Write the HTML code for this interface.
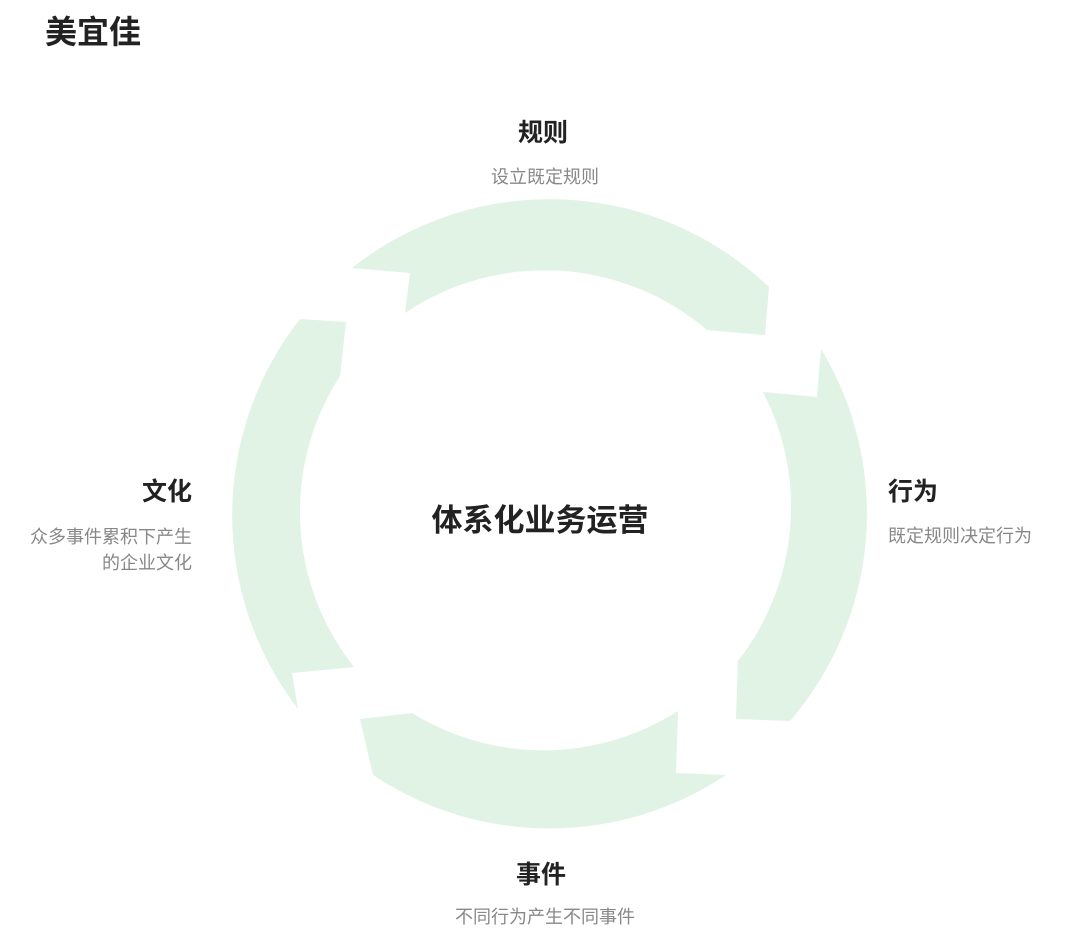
<!DOCTYPE html>
<html><head><meta charset="utf-8"><style>
body{margin:0;width:1080px;height:944px;background:#fff;overflow:hidden;font-family:"Liberation Sans","Noto Sans CJK SC",sans-serif;}
svg{position:absolute;left:0;top:0}
</style></head><body>
<svg width="1080" height="944" viewBox="0 0 1080 944">
<g fill="#e0f3e5">
<path d="M352 268 A318 318 0 0 1 769 287 L765 335 L707 330 A250 250 0 0 0 405 313 L410 273 Z"/>
<path d="M821 349 A318 318 0 0 1 790 721 L736 719 L738 661 A250 250 0 0 0 763 392 L817 397 Z"/>
<path d="M726 775 A318 318 0 0 1 373 775 L360 719 L412 713 A250 250 0 0 0 678 711 L676 773 Z"/>
<path d="M298 709 A318 318 0 0 1 300 319 L346 322 L340 376 A250 250 0 0 0 354 667 L292 673 Z"/>
</g>
<g font-family="Liberation Sans, Noto Sans CJK SC, sans-serif">
<text x="45" y="43" font-size="32" font-weight="bold" fill="#222">美宜佳</text>
<text x="543" y="141" font-size="25" font-weight="bold" fill="#222" text-anchor="middle">规则</text>
<text x="545" y="183" font-size="18" fill="#888" text-anchor="middle">设立既定规则</text>
<text x="888" y="500" font-size="25" font-weight="bold" fill="#222">行为</text>
<text x="888" y="542" font-size="18" fill="#888">既定规则决定行为</text>
<text x="192" y="500" font-size="25" font-weight="bold" fill="#222" text-anchor="end">文化</text>
<text x="192" y="543" font-size="18" fill="#888" text-anchor="end">众多事件累积下产生</text>
<text x="192" y="569" font-size="18" fill="#888" text-anchor="end">的企业文化</text>
<text x="541" y="883" font-size="25" font-weight="bold" fill="#222" text-anchor="middle">事件</text>
<text x="545" y="923" font-size="18" fill="#888" text-anchor="middle">不同行为产生不同事件</text>
<text x="540" y="531" font-size="31" font-weight="bold" fill="#222" text-anchor="middle">体系化业务运营</text>
</g>
</svg>
</body></html>
